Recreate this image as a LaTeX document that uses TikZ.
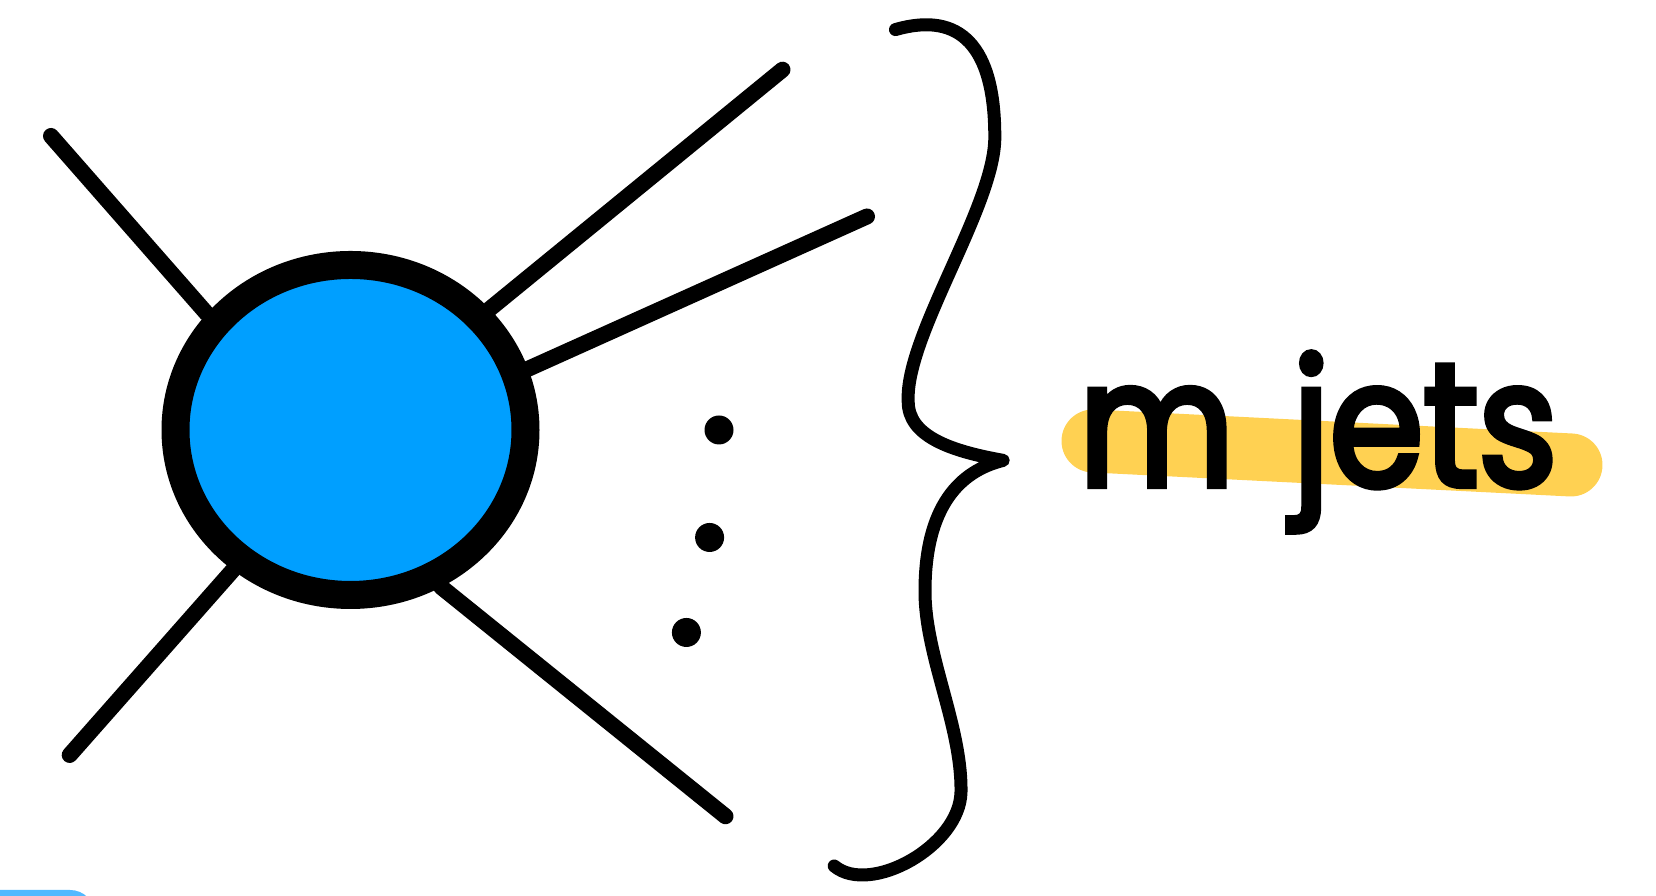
\documentclass[tikz,border=0pt]{standalone}
\usepackage{fontspec}
\setmainfont{Poppins}
\newfontfamily\handfont{Poppins}[FakeBold=3.5, FakeStretch=0.86]
\usepackage{tikz}
\usetikzlibrary{shapes.geometric}
\definecolor{jetblue}{HTML}{009FFF}
\definecolor{marker}{HTML}{FFD152}
\definecolor{tabblue}{HTML}{52B9FF}

\begin{document}
\begin{tikzpicture}[
  leg/.style={line width=0.16cm, line cap=round, black},
  speck/.style={circle, fill=black, inner sep=0pt, minimum size=0.29cm},
  brace/.style={line width=0.13cm, line cap=round, line join=round},
  glow/.style={line width=0.63cm, line cap=round, marker},
]
\useasboundingbox (0,0) rectangle (16.56,8.96);
\begin{scope}
  \clip (0,0) rectangle (16.56,8.96);
  \fill[tabblue, rounded corners=0.25cm] (-0.5,-0.6) rectangle (0.95,0.06);
\end{scope}

\node[ellipse, draw=black, line width=0.28cm, fill=jetblue, minimum width=3.5cm,
      minimum height=3.3cm, inner sep=0pt] (blob) at (3.505,4.66) {};

\coordinate (nw) at (0.51,7.60);
\coordinate (ne) at (7.825,8.263);
\coordinate (ee) at (8.67,6.795);
\coordinate (sw) at (0.697,1.41);
\coordinate (se) at (7.255,0.797);
\draw[leg] (blob.141.6) -- (nw);
\draw[leg] (blob.41.5) -- (ne);
\draw[leg] (blob.19.5) -- (ee);
\draw[leg] (blob.230.4) -- (sw);
\draw[leg] (blob.300.6) -- (se);

\node[speck] (dot1) at (7.19,4.66) {};
\node[speck] (dot2) at (7.096,3.585) {};
\node[speck] (dot3) at (6.864,2.635) {};

\coordinate (bt) at (8.955,8.664);
\coordinate (tip) at (10.032,4.356);
\coordinate (bb) at (8.342,0.30);
\draw[brace] (bt) .. controls (9.6,8.85) and (9.95,8.5) .. (9.948,7.587)
  .. controls (9.95,6.9) and (9.05,5.6) .. (9.082,4.947)
  .. controls (9.08,4.6) and (9.5,4.45) .. (tip)
  .. controls (9.6,4.25) and (9.25,3.9) .. (9.25,3.046)
  .. controls (9.25,2.4) and (9.62,1.7) .. (9.61,1.04)
  .. controls (9.6,0.5) and (8.7,0.0) .. (bb);

\coordinate (gl) at (10.93,4.55);
\coordinate (gr) at (15.71,4.31);
\draw[glow] (gl) -- (gr);
\node[anchor=base west, inner sep=0pt, font=\handfont\fontsize{50}{60}\selectfont] (label)
  at (10.78,4.10) {m\hspace{0.1em} jets};
\end{tikzpicture}
\end{document}
